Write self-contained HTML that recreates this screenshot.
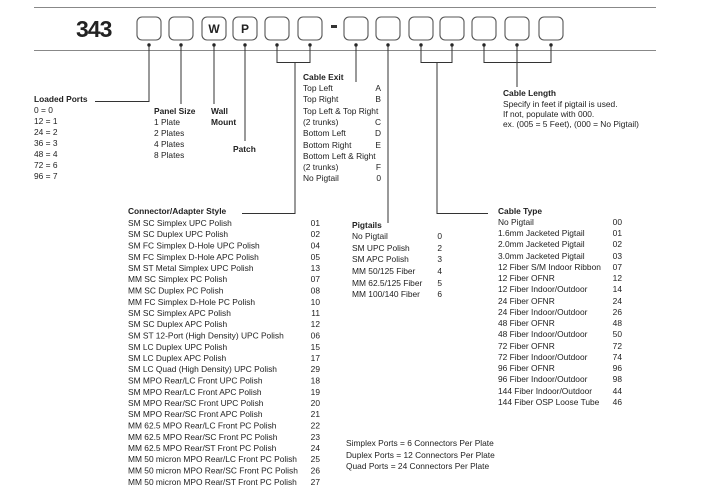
<!DOCTYPE html>
<html><head><meta charset="utf-8"><style>
html,body{margin:0;padding:0;background:#fff;width:713px;height:492px;overflow:hidden}
svg{display:block}
text{font-family:"Liberation Sans",Arial,sans-serif;font-size:8.4px;fill:#222}
.b{font-weight:bold}
.r{text-anchor:end}
</style></head><body>
<svg width="713" height="492" viewBox="0 0 713 492" xmlns="http://www.w3.org/2000/svg">
<g stroke="#888" stroke-width="1" fill="none">
<line x1="34" y1="7.5" x2="656" y2="7.5"/>
<line x1="34" y1="50.5" x2="656" y2="50.5"/>
</g>
<text x="76" y="37" class="b" style="font-size:23px;letter-spacing:-1px;fill:#222">343</text>
<g stroke="#555" stroke-width="1.1" fill="#fff">
<rect x="137" y="17" width="24" height="23" rx="5"/>
<rect x="169" y="17" width="24" height="23" rx="5"/>
<rect x="202" y="17" width="24" height="23" rx="5"/>
<rect x="233" y="17" width="24" height="23" rx="5"/>
<rect x="265" y="17" width="24" height="23" rx="5"/>
<rect x="298" y="17" width="24" height="23" rx="5"/>
<rect x="344" y="17" width="24" height="23" rx="5"/>
<rect x="376" y="17" width="24" height="23" rx="5"/>
<rect x="409" y="17" width="24" height="23" rx="5"/>
<rect x="440" y="17" width="24" height="23" rx="5"/>
<rect x="472" y="17" width="24" height="23" rx="5"/>
<rect x="505" y="17" width="24" height="23" rx="5"/>
<rect x="539" y="17" width="24" height="23" rx="5"/>
</g>
<rect x="331" y="25" width="6" height="3" fill="#333"/>
<text x="214" y="33" class="b" style="font-size:12px;text-anchor:middle">W</text>
<text x="245" y="33" class="b" style="font-size:12px;text-anchor:middle">P</text>
<g fill="#222">
<circle cx="149" cy="45" r="1.7"/><circle cx="181" cy="45" r="1.7"/><circle cx="214" cy="45" r="1.7"/>
<circle cx="245" cy="45" r="1.7"/><circle cx="277" cy="45" r="1.7"/><circle cx="310" cy="45" r="1.7"/>
<circle cx="356" cy="45" r="1.7"/><circle cx="388" cy="45" r="1.7"/><circle cx="421" cy="45" r="1.7"/>
<circle cx="452" cy="45" r="1.7"/><circle cx="484" cy="45" r="1.7"/><circle cx="517" cy="45" r="1.7"/>
<circle cx="551" cy="45" r="1.7"/>
</g>
<g stroke="#333" stroke-width="1" fill="none">
<polyline points="149,45 149,101.5 95,101.5"/>
<line x1="181" y1="45" x2="181" y2="104"/>
<line x1="214" y1="45" x2="214" y2="104"/>
<line x1="245" y1="45" x2="245" y2="141"/>
<polyline points="277,45 277,62.5 310,62.5 310,45"/>
<polyline points="295,62 295,213.5 242,213.5"/>
<line x1="356" y1="45" x2="356" y2="82"/>
<line x1="388" y1="45" x2="388" y2="223"/>
<polyline points="421,45 421,62.5 452,62.5 452,45"/>
<polyline points="437,62 437,213.5 488,213.5"/>
<polyline points="484,45 484,62.5 551,62.5 551,45"/>
<line x1="517" y1="45" x2="517" y2="87"/>
</g>
<text x="34" y="102" class="b">Loaded Ports</text>
<text x="34" y="113">0 = 0</text><text x="34" y="124">12 = 1</text><text x="34" y="135">24 = 2</text>
<text x="34" y="146">36 = 3</text><text x="34" y="157">48 = 4</text><text x="34" y="168">72 = 6</text><text x="34" y="179">96 = 7</text>
<text x="154" y="114" class="b">Panel Size</text>
<text x="154" y="125">1 Plate</text><text x="154" y="136">2 Plates</text><text x="154" y="147">4 Plates</text><text x="154" y="158">8 Plates</text>
<text x="211" y="114" class="b">Wall</text><text x="211" y="125" class="b">Mount</text>
<text x="233" y="152" class="b">Patch</text>
<text x="303" y="80" class="b">Cable Exit</text>
<text x="303" y="91">Top Left</text><text x="381" y="91" class="r">A</text>
<text x="303" y="102">Top Right</text><text x="381" y="102" class="r">B</text>
<text x="303" y="114">Top Left &amp; Top Right</text>
<text x="303" y="125">(2 trunks)</text><text x="381" y="125" class="r">C</text>
<text x="303" y="136">Bottom Left</text><text x="381" y="136" class="r">D</text>
<text x="303" y="148">Bottom Right</text><text x="381" y="148" class="r">E</text>
<text x="303" y="159">Bottom Left &amp; Right</text>
<text x="303" y="170">(2 trunks)</text><text x="381" y="170" class="r">F</text>
<text x="303" y="181">No Pigtail</text><text x="381" y="181" class="r">0</text>
<text x="503" y="96" class="b">Cable Length</text>
<text x="503" y="107">Specify in feet if pigtail is used.</text>
<text x="503" y="117">If not, populate with 000.</text>
<text x="503" y="127">ex. (005 = 5 Feet), (000 = No Pigtail)</text>
<text x="128" y="214" class="b">Connector/Adapter Style</text>
<g>
<text x="128" y="226">SM SC Simplex UPC Polish</text><text x="320" y="226" class="r">01</text>
<text x="128" y="237">SM SC Duplex UPC Polish</text><text x="320" y="237" class="r">02</text>
<text x="128" y="248.5">SM FC Simplex D-Hole UPC Polish</text><text x="320" y="248.5" class="r">04</text>
<text x="128" y="260">SM FC Simplex D-Hole APC Polish</text><text x="320" y="260" class="r">05</text>
<text x="128" y="271">SM ST Metal Simplex UPC Polish</text><text x="320" y="271" class="r">13</text>
<text x="128" y="282">MM SC Simplex PC Polish</text><text x="320" y="282" class="r">07</text>
<text x="128" y="293.5">MM SC Duplex PC Polish</text><text x="320" y="293.5" class="r">08</text>
<text x="128" y="305">MM FC Simplex D-Hole PC Polish</text><text x="320" y="305" class="r">10</text>
<text x="128" y="316">SM SC Simplex APC Polish</text><text x="320" y="316" class="r">11</text>
<text x="128" y="327">SM SC Duplex APC Polish</text><text x="320" y="327" class="r">12</text>
<text x="128" y="338.5">SM ST 12-Port (High Density) UPC Polish</text><text x="320" y="338.5" class="r">06</text>
<text x="128" y="350">SM LC Duplex UPC Polish</text><text x="320" y="350" class="r">15</text>
<text x="128" y="361">SM LC Duplex APC Polish</text><text x="320" y="361" class="r">17</text>
<text x="128" y="372">SM LC Quad (High Density) UPC Polish</text><text x="320" y="372" class="r">29</text>
<text x="128" y="383.5">SM MPO Rear/LC Front UPC Polish</text><text x="320" y="383.5" class="r">18</text>
<text x="128" y="395">SM MPO Rear/LC Front APC Polish</text><text x="320" y="395" class="r">19</text>
<text x="128" y="406">SM MPO Rear/SC Front UPC Polish</text><text x="320" y="406" class="r">20</text>
<text x="128" y="417">SM MPO Rear/SC Front APC Polish</text><text x="320" y="417" class="r">21</text>
<text x="128" y="428.5">MM 62.5 MPO Rear/LC Front PC Polish</text><text x="320" y="428.5" class="r">22</text>
<text x="128" y="440">MM 62.5 MPO Rear/SC Front PC Polish</text><text x="320" y="440" class="r">23</text>
<text x="128" y="451">MM 62.5 MPO Rear/ST Front PC Polish</text><text x="320" y="451" class="r">24</text>
<text x="128" y="462">MM 50 micron MPO Rear/LC Front PC Polish</text><text x="320" y="462" class="r">25</text>
<text x="128" y="473.5">MM 50 micron MPO Rear/SC Front PC Polish</text><text x="320" y="473.5" class="r">26</text>
<text x="128" y="485">MM 50 micron MPO Rear/ST Front PC Polish</text><text x="320" y="485" class="r">27</text>
</g>
<text x="352" y="228" class="b">Pigtails</text>
<text x="352" y="239">No Pigtail</text><text x="442" y="239" class="r">0</text>
<text x="352" y="251">SM UPC Polish</text><text x="442" y="251" class="r">2</text>
<text x="352" y="262">SM APC Polish</text><text x="442" y="262" class="r">3</text>
<text x="352" y="274">MM 50/125 Fiber</text><text x="442" y="274" class="r">4</text>
<text x="352" y="286">MM 62.5/125 Fiber</text><text x="442" y="286" class="r">5</text>
<text x="352" y="297">MM 100/140 Fiber</text><text x="442" y="297" class="r">6</text>
<text x="498" y="214" class="b">Cable Type</text>
<g>
<text x="498" y="225">No Pigtail</text><text x="622" y="225" class="r">00</text>
<text x="498" y="236">1.6mm Jacketed Pigtail</text><text x="622" y="236" class="r">01</text>
<text x="498" y="247">2.0mm Jacketed Pigtail</text><text x="622" y="247" class="r">02</text>
<text x="498" y="259">3.0mm Jacketed Pigtail</text><text x="622" y="259" class="r">03</text>
<text x="498" y="270">12 Fiber S/M Indoor Ribbon</text><text x="622" y="270" class="r">07</text>
<text x="498" y="281">12 Fiber OFNR</text><text x="622" y="281" class="r">12</text>
<text x="498" y="292">12 Fiber Indoor/Outdoor</text><text x="622" y="292" class="r">14</text>
<text x="498" y="304">24 Fiber OFNR</text><text x="622" y="304" class="r">24</text>
<text x="498" y="315">24 Fiber Indoor/Outdoor</text><text x="622" y="315" class="r">26</text>
<text x="498" y="326">48 Fiber OFNR</text><text x="622" y="326" class="r">48</text>
<text x="498" y="337">48 Fiber Indoor/Outdoor</text><text x="622" y="337" class="r">50</text>
<text x="498" y="349">72 Fiber OFNR</text><text x="622" y="349" class="r">72</text>
<text x="498" y="360">72 Fiber Indoor/Outdoor</text><text x="622" y="360" class="r">74</text>
<text x="498" y="371">96 Fiber OFNR</text><text x="622" y="371" class="r">96</text>
<text x="498" y="382">96 Fiber Indoor/Outdoor</text><text x="622" y="382" class="r">98</text>
<text x="498" y="394">144 Fiber Indoor/Outdoor</text><text x="622" y="394" class="r">44</text>
<text x="498" y="405">144 Fiber OSP Loose Tube</text><text x="622" y="405" class="r">46</text>
</g>
<text x="346" y="446">Simplex Ports = 6 Connectors Per Plate</text>
<text x="346" y="458">Duplex Ports = 12 Connectors Per Plate</text>
<text x="346" y="469">Quad Ports = 24 Connectors Per Plate</text>
</svg>
</body></html>
